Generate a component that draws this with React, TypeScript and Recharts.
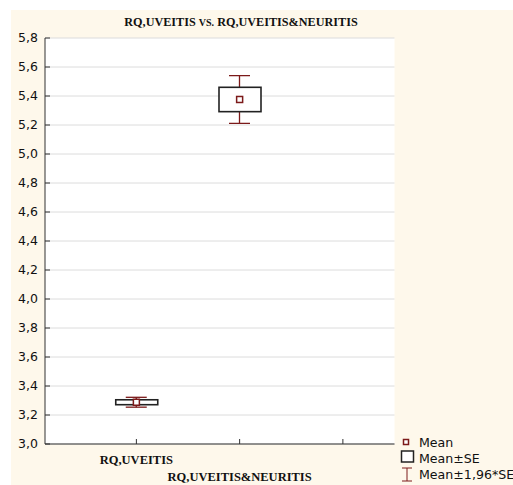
import React from 'react';
import { ComposedChart, XAxis, YAxis, CartesianGrid, Bar, Scatter } from 'recharts';

const categories = ['RQ,UVEITIS', 'RQ,UVEITIS&NEURITIS'];
const positions = [1, 2];
const means = [3.288, 5.376];
const seLow = [3.271, 5.292];
const seHigh = [3.305, 5.46];
const ciLow = [3.254, 5.211];
const ciHigh = [3.322, 5.541];
const yTicks = [3.0, 3.2, 3.4, 3.6, 3.8, 4.0, 4.2, 4.4, 4.6, 4.8, 5.0, 5.2, 5.4, 5.6, 5.8];
const xTicks = [1, 2, 3];
const legendLabels = ['Mean', 'Mean±SE', 'Mean±1,96*SE'];

const RED = '#7c1a1a';
const BOX = '#222';
const CREAM = '#fef8eb';
const X_DOMAIN: [number, number] = [0.115, 3.5];

const rows = categories.map((c, i) => ({
  name: c,
  x: positions[i],
  mean: means[i],
  se: [seLow[i], seHigh[i]],
  ci: [ciLow[i], ciHigh[i]],
}));

const fmt = (v: number) => v.toFixed(1).replace('.', ',');

const YTick = (props: any) => {
  const { x, y, payload } = props;
  return (
    <g>
      <line x1={x} x2={x + 5} y1={y} y2={y} stroke="#333" strokeWidth={1} />
      <text x={x - 7} y={y} dy={4} textAnchor="end" fontFamily="DejaVu Sans" fontSize={12.5} fill="#111">
        {fmt(payload.value)}
      </text>
    </g>
  );
};

const BottomTick = (props: any) => {
  const { x, y, payload } = props;
  const idx = positions.indexOf(payload.value);
  const label = idx >= 0 ? categories[idx] : '';
  return (
    <g>
      <line x1={x} x2={x} y1={y} y2={y - 5} stroke="#333" strokeWidth={1} />
      {label ? (
        <text x={x} y={y + (idx === 0 ? 20 : 37)} textAnchor="middle" fontFamily="Liberation Serif" fontWeight="bold" fontSize={12.5} fill="#111">
          {label}
        </text>
      ) : null}
    </g>
  );
};

const TopTick = (props: any) => {
  const { x, y } = props;
  return <line x1={x} x2={x} y1={y} y2={y + 5} stroke="#333" strokeWidth={1} />;
};

const MeanShape = (props: any) => {
  const { cx, cy } = props;
  if (cx == null || cy == null) return <g />;
  return <rect x={cx - 3} y={cy - 3} width={6} height={6} fill="#fff" stroke={RED} strokeWidth={1.5} />;
};

const WhiskerShape = (props: any) => {
  const { x, y, width, height } = props;
  if (x == null || y == null) return <g />;
  const mid = x + width / 2;
  return (
    <g stroke={RED} strokeWidth={1.3} fill="none">
      <line x1={mid} x2={mid} y1={y} y2={y + height} />
      <line x1={x} x2={x + width} y1={y} y2={y} />
      <line x1={x} x2={x + width} y1={y + height} y2={y + height} />
    </g>
  );
};

const BoxShape = (props: any) => {
  const { x, y, width, height } = props;
  if (x == null || y == null) return <g />;
  return <rect x={x} y={y} width={width} height={height} fill="#fff" stroke={BOX} strokeWidth={1.6} />;
};

export default function App() {
  return (
    <div style={{ position: 'absolute', left: 0, top: 0, width: 513, height: 485, background: '#fff', overflow: 'hidden' }}>
      <div style={{ position: 'absolute', left: 11, top: 10, right: 0, bottom: 0, background: CREAM }} />
      <div style={{ position: 'absolute', left: 0, top: 0 }}>
        <ComposedChart width={513} height={485} data={rows} margin={{ top: 38, right: 118.5, bottom: 0, left: 0 }}>
          <CartesianGrid vertical={false} horizontal stroke="#dcdcdc" fill="#fff" yAxisId="left" xAxisId="bottom" />
          <XAxis
            xAxisId="bottom"
            dataKey="x"
            type="number"
            domain={X_DOMAIN}
            ticks={xTicks}
            allowDataOverflow
            height={41}
            tickSize={0}
            tickMargin={0}
            tickLine={false}
            axisLine={{ stroke: '#333', strokeWidth: 1 }}
            tick={<BottomTick />}
            interval={0}
          />
          <XAxis xAxisId="whisker" dataKey="x" type="number" domain={X_DOMAIN} allowDataOverflow hide />
          <XAxis
            xAxisId="top"
            orientation="top"
            dataKey="x"
            type="number"
            domain={X_DOMAIN}
            ticks={xTicks}
            allowDataOverflow
            height={0}
            tickSize={0}
            tickMargin={0}
            tickLine={false}
            axisLine={{ stroke: '#555', strokeWidth: 1.5 }}
            tick={<TopTick />}
            interval={0}
          />
          <YAxis
            yAxisId="left"
            type="number"
            domain={[3.0, 5.8]}
            ticks={yTicks}
            allowDataOverflow
            width={45}
            tickSize={0}
            tickMargin={0}
            tickLine={false}
            axisLine={{ stroke: '#333', strokeWidth: 1 }}
            tick={<YTick />}
            interval={0}
          />
          <YAxis
            yAxisId="right"
            orientation="right"
            type="number"
            domain={[3.0, 5.8]}
            width={0}
            tick={false}
            tickLine={false}
            axisLine={{ stroke: '#555', strokeWidth: 1.5 }}
          />
          <Bar xAxisId="whisker" yAxisId="left" dataKey="ci" barSize={21} shape={<WhiskerShape />} isAnimationActive={false} />
          <Bar xAxisId="bottom" yAxisId="left" dataKey="se" barSize={42} shape={<BoxShape />} isAnimationActive={false} />
          <Scatter xAxisId="bottom" yAxisId="left" dataKey="mean" shape={<MeanShape />} isAnimationActive={false} />
        </ComposedChart>
      </div>
      <svg width={513} height={485} style={{ position: 'absolute', left: 0, top: 0, pointerEvents: 'none' }}>
        <text x={241} y={26} textAnchor="middle" fontFamily="Liberation Serif" fontWeight="bold" fontSize={12.2} fill="#111">
          RQ,UVEITIS <tspan fontSize={10}>VS.</tspan> RQ,UVEITIS&amp;NEURITIS
        </text>
        <rect x={403.5} y={439.5} width={5} height={5} fill="#fff" stroke={RED} strokeWidth={1.5} />
        <text x={419} y={447} fontFamily="DejaVu Sans" fontSize={12.6} fill="#111">{legendLabels[0]}</text>
        <rect x={401.5} y={451} width={12} height={11} fill="#fff" stroke={BOX} strokeWidth={1.5} />
        <text x={419} y={463} fontFamily="DejaVu Sans" fontSize={12.6} fill="#111">{legendLabels[1]}</text>
        <line x1={402} x2={412} y1={468} y2={468} stroke={RED} strokeWidth={1} />
        <line x1={407} x2={407} y1={468} y2={481} stroke={RED} strokeWidth={1} />
        <line x1={402} x2={412} y1={481} y2={481} stroke={RED} strokeWidth={1} />
        <text x={419} y={479} fontFamily="DejaVu Sans" fontSize={12.6} fill="#111">{legendLabels[2]}</text>
      </svg>
    </div>
  );
}
